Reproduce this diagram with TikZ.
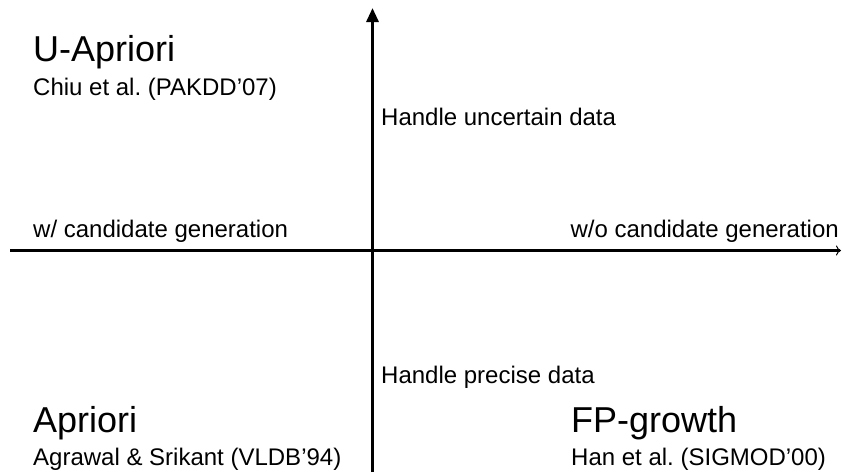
\documentclass[tikz,border=0pt]{standalone}
\usepackage{fontspec}
\setmainfont{Liberation Sans}
\usetikzlibrary{arrows.meta}
\frenchspacing
\begin{document}
\begin{tikzpicture}[x=1pt,y=-1pt,
  title/.style={anchor=base west,inner sep=0pt,font=\fontsize{36}{40}\selectfont},
  sub/.style={anchor=base west,inner sep=0pt,font=\fontsize{24}{28}\selectfont},
  axis/.style={line width=3pt}]
\useasboundingbox (0,0) rectangle (842,472);
\coordinate (vb) at (372.5,472);
\coordinate (vt) at (372.5,8);
\coordinate (hl) at (10,250.5);
\coordinate (hr) at (841,250.5);
\draw[axis,-{Triangle[width=12pt,length=14pt]}] (vb) -- (vt);
\draw[axis,-{To[length=5pt,width=10pt,line width=1pt]}] (hl) -- (hr);
\node[title] (ua) at (33,61) {U-Apriori};
\node[sub] (uac) at (33,95) {Chiu et al. (PAKDD’07)};
\node[sub] (hu) at (381,125) {Handle uncertain data};
\node[sub] (wc) at (33,237) {w/ candidate generation};
\node[sub,anchor=base east] (woc) at (839,237) {w/o candidate generation};
\node[sub] (hp) at (381,383) {Handle precise data};
\node[title] (ap) at (33,432) {Apriori};
\node[sub] (apc) at (33,465) {Agrawal \& Srikant (VLDB’94)};
\node[title] (fp) at (571,432) {FP-growth};
\node[sub] (fpc) at (571,465) {Han et al. (SIGMOD’00)};
\end{tikzpicture}
\end{document}
